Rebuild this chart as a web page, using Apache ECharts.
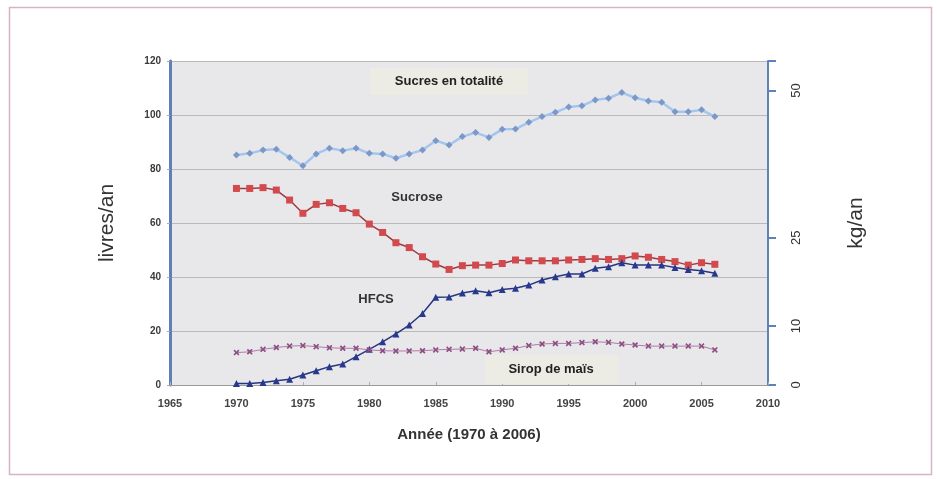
<!DOCTYPE html>
<html>
<head>
<meta charset="utf-8">
<script src="https://cdn.jsdelivr.net/npm/echarts@6/dist/echarts.min.js"></script>
<style>
html,body{margin:0;padding:0;background:#fff;}
#c{width:937px;height:479px;}
</style>
</head>
<body>
<div id="c"></div>
<script>
const years = [1970,1971,1972,1973,1974,1975,1976,1977,1978,1979,1980,1981,1982,1983,1984,1985,1986,1987,1988,1989,1990,1991,1992,1993,1994,1995,1996,1997,1998,1999,2000,2001,2002,2003,2004,2005,2006];
const sucresTotal = [85.2,85.8,87.0,87.3,84.3,81.2,85.6,87.7,86.8,87.7,85.8,85.6,84.0,85.6,87.0,90.5,88.9,92.0,93.5,91.7,94.7,94.8,97.3,99.4,101.0,103.0,103.4,105.6,106.2,108.3,106.4,105.2,104.7,101.2,101.2,101.9,99.4];
const sucrose = [72.8,72.8,73.1,72.2,68.5,63.6,66.9,67.5,65.4,63.8,59.6,56.5,52.7,50.9,47.5,44.8,42.8,44.2,44.4,44.4,45.0,46.3,46.0,46.0,46.0,46.3,46.5,46.8,46.5,46.8,47.8,47.3,46.5,45.7,44.4,45.3,44.7];
const hfcs = [0.6,0.6,0.9,1.6,2.1,3.7,5.3,6.8,7.8,10.5,13.2,16.0,18.9,22.2,26.5,32.5,32.6,34.1,34.9,34.2,35.4,35.8,37.0,38.9,40.1,41.1,41.1,43.2,43.8,45.3,44.4,44.4,44.4,43.5,42.8,42.3,41.4];
const siropMais = [12.0,12.3,13.2,13.9,14.4,14.6,14.2,13.8,13.6,13.6,13.0,12.7,12.6,12.6,12.7,13.0,13.2,13.3,13.6,12.3,13.0,13.6,14.6,15.2,15.4,15.4,15.7,16.0,15.8,15.2,14.8,14.4,14.4,14.4,14.4,14.4,13.0];
const xTicks = [1965,1970,1975,1980,1985,1990,1995,2000,2005,2010];
const leftTicks = [0,20,40,60,80,100,120];
const rightTicks = [0,10,25,50];
const labels = {
  total: 'Sucres en totalité',
  sucrose: 'Sucrose',
  hfcs: 'HFCS',
  sirop: 'Sirop de maïs',
  xName: 'Année (1970 à 2006)',
  yLeft: 'livres/an',
  yRight: 'kg/an'
};

const pairs = arr => years.map((y, i) => [y, arr[i]]);
const XPATH = 'path://M2,0L5,3L8,0L10,2L7,5L10,8L8,10L5,7L2,10L0,8L3,5L0,2Z';
const chart = echarts.init(document.getElementById('c'), null, {renderer: 'canvas'});
const tickFont = {fontFamily: 'Liberation Sans Narrow, Liberation Sans, Arial', fontSize: 11, color: '#3a3a3a', fontWeight: 'bold'};

chart.setOption({
  backgroundColor: '#ffffff',
  animation: false,
  grid: {left: 170, right: 169, top: 61, bottom: 94, show: true, backgroundColor: '#e8e8eb', borderWidth: 0},
  xAxis: {
    type: 'value', min: xTicks[0], max: xTicks[xTicks.length - 1], interval: 5,
    axisLine: {show: true, lineStyle: {color: '#9a9a9a', width: 1}},
    axisTick: {show: true, inside: true, length: 3, lineStyle: {color: '#b0b0b0'}},
    splitLine: {show: false},
    axisLabel: Object.assign({margin: 13, formatter: v => String(v)}, tickFont, {color: '#444'}),
    name: labels.xName, nameLocation: 'middle', nameGap: 42,
    nameTextStyle: {fontFamily: 'Liberation Sans Narrow, Liberation Sans, Arial', fontSize: 15, fontWeight: 'bold', color: '#333'}
  },
  yAxis: [
    {
      type: 'value', min: 0, max: 120, interval: 20, position: 'left',
      axisLine: {show: true, lineStyle: {color: '#5e7fb8', width: 3}},
      axisTick: {show: true, length: 3, lineStyle: {color: '#aaa'}},
      splitLine: {show: true, lineStyle: {color: '#b9b9bc', width: 1.2}},
      axisLabel: Object.assign({margin: 9}, tickFont, {fontSize: 10}),
      name: labels.yLeft, nameLocation: 'middle', nameGap: 52, nameRotate: 90,
      nameTextStyle: {fontFamily: 'Liberation Sans, Arial', fontSize: 21, color: '#333'}
    },
    {
      type: 'value', min: 0, max: 55, position: 'right',
      axisLine: {show: true, lineStyle: {color: '#5e80bb', width: 2}},
      axisTick: {show: true, length: 8, customValues: [0, 10, 25, 50, 55], lineStyle: {color: '#5e80bb', width: 2}},
      splitLine: {show: false},
      axisLabel: Object.assign({margin: 22, rotate: 90, customValues: rightTicks}, tickFont, {fontSize: 13, fontWeight: 'normal', fontFamily: 'Liberation Sans, Arial', color: '#333'}),
      name: labels.yRight, nameLocation: 'middle', nameGap: 78, nameRotate: 90,
      nameTextStyle: {fontFamily: 'Liberation Sans, Arial', fontSize: 21, color: '#333'}
    }
  ],
  series: [
    {
      name: labels.total, type: 'line', data: pairs(sucresTotal),
      symbol: 'diamond', symbolSize: 7,
      lineStyle: {color: '#a4c6ee', width: 2.5},
      itemStyle: {color: '#7b98c8'}
    },
    {
      name: labels.sucrose, type: 'line', data: pairs(sucrose),
      symbol: 'rect', symbolSize: 7,
      lineStyle: {color: '#9b3c42', width: 1.5},
      itemStyle: {color: '#d24a4e'}
    },
    {
      name: labels.hfcs, type: 'line', data: pairs(hfcs),
      symbol: 'triangle', symbolSize: 7,
      lineStyle: {color: '#28367f', width: 1.5},
      itemStyle: {color: '#27388f'}
    },
    {
      name: labels.sirop, type: 'line', data: pairs(siropMais),
      symbol: XPATH, symbolSize: 6,
      lineStyle: {color: '#b27aa6', width: 1},
      itemStyle: {color: '#8c4f83'}
    }
  ],
  graphic: [
    {type: 'rect', left: 7, top: 5, shape: {width: 922, height: 467}, style: {fill: 'none', stroke: '#d8b3c8', lineWidth: 1.5}, z: -1, silent: true},
    {type: 'rect', left: 370, top: 68, shape: {width: 158, height: 27}, style: {fill: '#ecebe4'}, z: 2},
    {type: 'text', x: 449, y: 81, style: {text: labels.total, fontFamily: 'Liberation Sans, Arial', fontSize: 13, fontWeight: 'bold', fill: '#222', align: 'center', verticalAlign: 'middle'}, z: 3},
    {type: 'text', x: 417, y: 197, style: {text: labels.sucrose, fontFamily: 'Liberation Sans, Arial', fontSize: 13, fontWeight: 'bold', fill: '#333', align: 'center', verticalAlign: 'middle'}, z: 3},
    {type: 'text', x: 376, y: 299, style: {text: labels.hfcs, fontFamily: 'Liberation Sans, Arial', fontSize: 13, fontWeight: 'bold', fill: '#333', align: 'center', verticalAlign: 'middle'}, z: 3},
    {type: 'rect', left: 485, top: 355, shape: {width: 133, height: 29}, style: {fill: '#ecebe4'}, z: 2},
    {type: 'text', x: 551, y: 369, style: {text: labels.sirop, fontFamily: 'Liberation Sans, Arial', fontSize: 13, fontWeight: 'bold', fill: '#222', align: 'center', verticalAlign: 'middle'}, z: 3}
  ]
});
</script>
</body>
</html>
